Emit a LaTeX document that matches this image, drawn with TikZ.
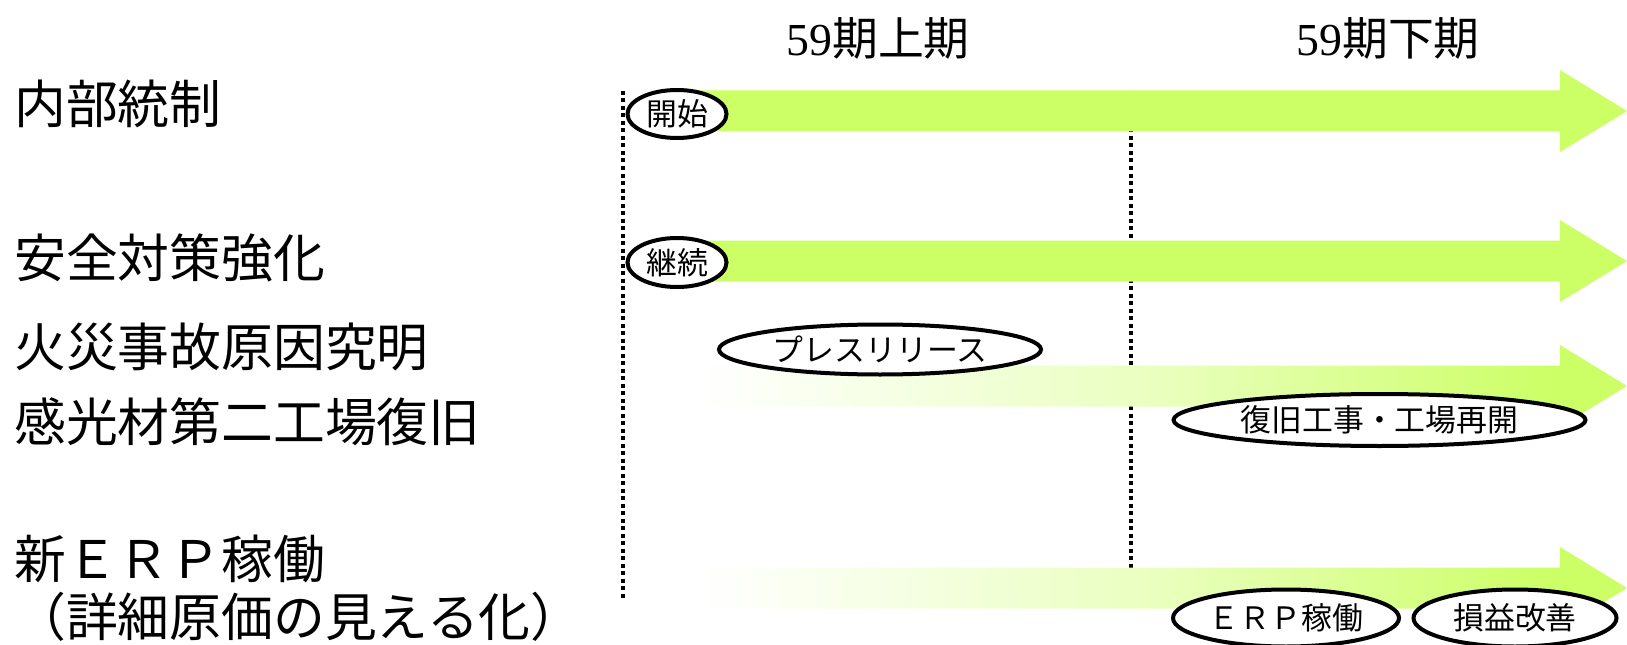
\documentclass[tikz,border=0pt]{standalone}
\usepackage{fontspec}
\setmainfont{Liberation Serif}
\newfontfamily\jp{Noto Sans CJK JP}
\usetikzlibrary{shapes.geometric}
\definecolor{lgreen}{RGB}{204,255,102}
\pgfdeclarehorizontalshading{fadegreen}{100bp}{color(0bp)=(white); color(26bp)=(white); color(50bp)=(lgreen!42!white); color(71bp)=(lgreen); color(100bp)=(lgreen)}
\newcommand\tlarrow[3]{\path[#3] (#1,#2-20.5) -- (1560,#2-20.5) -- (1560,#2-41) -- (1627,#2) -- (1560,#2+41) -- (1560,#2+20.5) -- (#1,#2+20.5) -- cycle;}
\begin{document}
\begin{tikzpicture}[x=1bp,y=-1bp,
  every node/.style={inner sep=0pt},
  lbl/.style={anchor=base west, font=\jp\fontsize{52}{60}\selectfont},
  period/.style={anchor=base, font=\fontsize{46}{52}\selectfont},
  tag/.style={ellipse, draw=black, line width=4bp, fill=white, font=\jp\fontsize{31}{34}\selectfont},
  solidarrow/.style={fill=lgreen},
  fadearrow/.style={shading=fadegreen},
  guide/.style={line width=4bp, dash pattern=on 4bp off 3.5bp}]
\useasboundingbox (0,0) rectangle (1627,645);

% period headings
\node[period] (h1) at (878,56) {59{\jp 期上期}};
\node[period] (h2) at (1388,56) {59{\jp 期下期}};

% row labels
\node[lbl] (r1) at (14,124) {内部統制};
\node[lbl] (r2) at (14,277) {安全対策強化};
\node[lbl] (r3) at (14,366) {火災事故原因究明};
\node[lbl] (r4) at (14,441) {感光材第二工場復旧};
\node[lbl] (r5) at (14,578) {新ＥＲＰ稼働};
\node[lbl] (r6) at (14,636) {（詳細原価の見える化）};

% guide lines
\coordinate (g1t) at (623,91);
\coordinate (g1b) at (623,600);
\coordinate (g2t) at (1131,91);
\coordinate (g2b) at (1131,600);
\draw[guide] (g1t) -- (g1b);
\draw[guide] (g2t) -- (g2b);

% arrows
\tlarrow{676}{111}{solidarrow}
\tlarrow{676}{261}{solidarrow}
\tlarrow{680}{386}{fadearrow}
\tlarrow{680}{588}{fadearrow}

% milestones
\node[tag, minimum width=99bp, minimum height=48bp] (kaishi) at (677,114) {開始};
\node[tag, minimum width=99bp, minimum height=49bp] (keizoku) at (677,262.5) {継続};
\node[tag, minimum width=322bp, minimum height=50bp] (press) at (880,349.5) {プレスリリース};
\node[tag, minimum width=412bp, minimum height=52bp] (fukkyu) at (1379.5,420) {復旧工事・工場再開};
\node[tag, minimum width=226bp, minimum height=57bp] (erp) at (1286,618) {ＥＲＰ稼働};
\node[tag, minimum width=203bp, minimum height=57bp] (soneki) at (1515,618) {損益改善};
\end{tikzpicture}
\end{document}
